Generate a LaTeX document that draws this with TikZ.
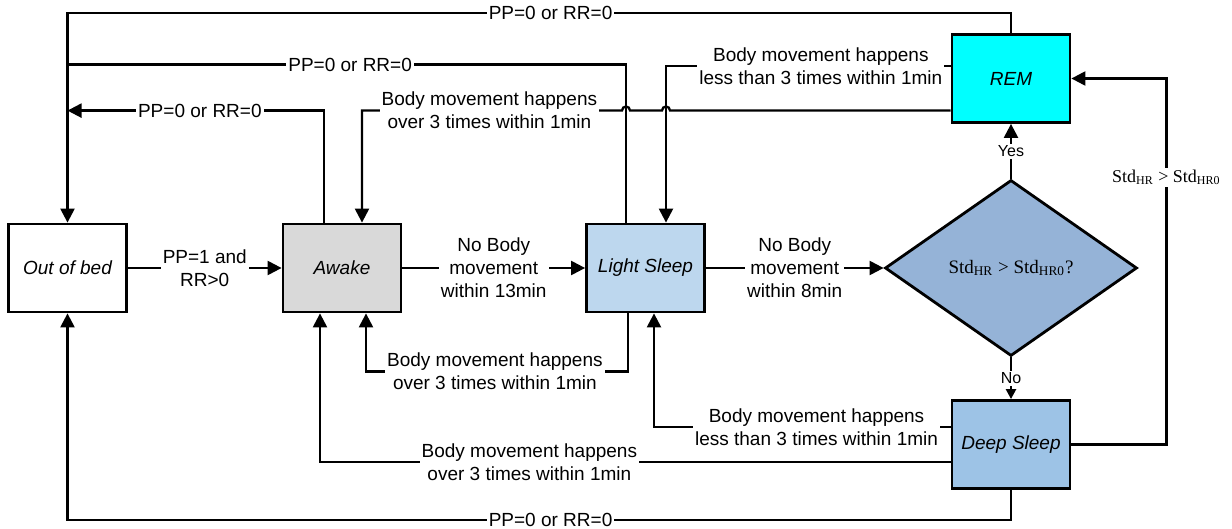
\documentclass[tikz,border=0pt]{standalone}
\usepackage{fontspec}
\setmainfont{Liberation Sans}
\newfontfamily\timesfont{Liberation Serif}
\usetikzlibrary{arrows.meta,shapes.geometric,calc}
\usepackage{xcolor}
\definecolor{awakegray}{HTML}{D9D9D9}
\definecolor{lightblue}{HTML}{BDD7EE}
\definecolor{deepblue}{HTML}{9DC3E6}
\definecolor{checkblue}{HTML}{95B3D7}
\definecolor{remcyan}{HTML}{00FFFF}
\tikzset{
  box/.style={draw=black, line width=1.4pt, align=center, fill=white, minimum width=59pt, minimum height=44pt, font=\fontsize{9.5}{11.5}\selectfont\itshape},
  awakebox/.style={box, fill=awakegray},
  lightbox/.style={box, fill=lightblue},
  deepbox/.style={box, fill=deepblue},
  rembox/.style={box, fill=remcyan},
  decision/.style={diamond, draw=black, line width=1.4pt, fill=checkblue, minimum width=126pt, minimum height=88pt, inner sep=0pt, font=\timesfont\fontsize{9.5}{11.5}\selectfont},
  link/.style={line width=1.15pt, draw=black},
  arrow/.style={link, -{Triangle[length=7pt,width=7pt]}},
  lbl/.style={fill=white, inner sep=1pt, align=center, font=\fontsize{9.5}{11.5}\selectfont},
  small/.style={lbl, font=\fontsize{8}{9}\selectfont}
}
\begin{document}
\begin{tikzpicture}[x=0.5pt, y=-0.5pt]
  \useasboundingbox (0,0) rectangle (1232,529);
  % states
  \node[box] (bed) at (67.5,268) {Out of bed};
  \node[awakebox] (awake) at (342,268) {Awake};
  \node[lightbox] (light) at (645.5,268) {Light Sleep};
  \node[decision] (check) at (1011,268) {Std\textsubscript{HR} > Std\textsubscript{HR0}?};
  \node[rembox] (rem) at (1011,78.5) {REM};
  \node[deepbox] (deep) at (1011,444.5) {Deep Sleep};
  \coordinate (join2) at ([yshift=79pt]bed.north);
  \coordinate (join3) at ([yshift=56pt]bed.north);
  \coordinate (r4) at ([yshift=-16pt]rem.west);
  % main chain
  \draw[arrow] (bed) -- node[lbl]{PP=1 and\\RR>0} (awake);
  \draw[arrow] (awake) -- node[lbl]{No Body\\movement\\within 13min} (light);
  \draw[arrow] (light) -- node[lbl]{No Body\\movement\\within 8min} (check);
  \draw[arrow] (check) -- node[small]{Yes} (rem);
  \draw[link, -{Triangle[length=5pt,width=5pt]}] (check) -- node[small]{No} (deep);
  \draw[arrow] (deep.east) -- ++(95,0) |- node[lbl, pos=0.365, font=\timesfont\fontsize{9}{11}\selectfont]{Std\textsubscript{HR} > Std\textsubscript{HR0}} (rem.east);
  % back to out of bed
  \draw[arrow] (rem.north) -- ++(0,-20) -| node[lbl, pos=0.244]{PP=0 or RR=0} (bed.north);
  \draw[link] ([xshift=-9.75pt]light.north) |- node[lbl, pos=0.747]{PP=0 or RR=0} (join2);
  \draw[arrow] ([xshift=-9pt]awake.north) |- node[lbl, pos=0.742]{PP=0 or RR=0} (join3);
  \draw[arrow] (deep.south) -- ++(0,30) -| node[lbl, pos=0.244]{PP=0 or RR=0} (bed.south);
  % body movement
  \draw[arrow] (r4) -- ($(r4 -| light.north)+(24.5,0)$) arc[start angle=0, end angle=-180, radius=4]
    -- ($(r4 -| light.north)+(-15.5,0)$) arc[start angle=0, end angle=-180, radius=4]
    -- node[lbl, pos=0.51]{Body movement happens\\over 3 times within 1min} ($(r4 -| awake.north)+(20,0)$)
    -- ([xshift=10pt]awake.north);
  \draw[arrow] ([yshift=6.25pt]rem.west) -| node[lbl, pos=0.228]{Body movement happens\\less than 3 times within 1min} ([xshift=10.25pt]light.north);
  \draw[arrow] ([xshift=-8.75pt]light.south) -- ++(0,58) -| node[lbl, pos=0.254]{Body movement happens\\over 3 times within 1min} ([xshift=12pt]awake.south);
  \draw[arrow] ([yshift=8.75pt]deep.west) -| node[lbl, pos=0.226]{Body movement happens\\less than 3 times within 1min} ([xshift=4.25pt]light.south);
  \draw[arrow] ([yshift=-8.75pt]deep.west) -| node[lbl, pos=0.334]{Body movement happens\\over 3 times within 1min} ([xshift=-11pt]awake.south);
\end{tikzpicture}
\end{document}
